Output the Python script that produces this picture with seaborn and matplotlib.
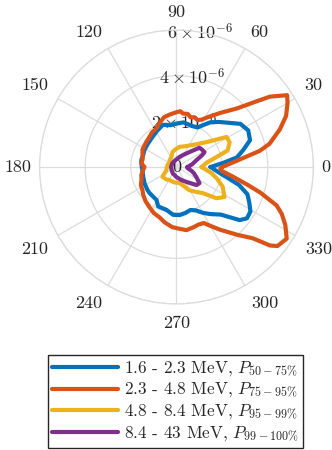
import numpy as np
import pandas as pd
import matplotlib
matplotlib.use("Agg")
import matplotlib.pyplot as plt
import seaborn as sns

sns.set_style("white")
plt.rcParams["font.family"] = "serif"
plt.rcParams["font.serif"] = ["cmr10"]
plt.rcParams["mathtext.fontset"] = "cm"
plt.rcParams["axes.unicode_minus"] = False

# angular distribution per energy band, r in units of 1e-6
bands = ["1.6 - 2.3 MeV, $P_{50-75\\%}$",
         "2.3 - 4.8 MeV, $P_{75-95\\%}$",
         "4.8 - 8.4 MeV, $P_{95-99\\%}$",
         "8.4 - 43 MeV, $P_{99-100\\%}$"]
colors = ["#0072BD", "#D95319", "#EDB120", "#7E2F8E"]

blue_deg = [0, 5, 9, 14, 20, 27, 34, 41, 47, 53, 58, 62, 70, 81, 90, 98, 108, 118,
            129, 140, 152, 160, 169, 180, 185, 197, 207, 218, 224, 239, 245, 257,
            266, 274, 281, 288, 294, 300, 306, 313, 320, 324, 329, 334, 339, 344,
            348, 353, 360]
blue_r = [1.49, 2.05, 2.68, 3.0, 3.43, 3.53, 3.38, 2.96, 2.70, 2.45, 2.15, 1.96,
          1.92, 1.98, 1.90, 1.85, 1.94, 1.80, 1.68, 1.62, 1.59, 1.55, 1.57, 1.52,
          1.50, 1.52, 1.57, 1.62, 1.64, 1.69, 1.90, 1.93, 2.10, 2.11, 2.05, 1.98,
          2.08, 2.32, 2.55, 2.85, 3.62, 3.82, 3.78, 3.55, 3.33, 2.85, 2.30, 1.85,
          1.49]

orange_deg = [0, 6, 11, 14, 20, 25, 30, 33, 37, 40, 44, 51, 58, 62, 66, 70, 74, 78,
              83, 86, 90, 97, 104, 111, 118, 125, 132, 140, 147, 153, 160, 167, 174,
              180, 186, 193, 200, 207, 214, 220, 228, 236, 244, 251, 258, 266, 272,
              279, 286, 291, 296, 301, 305, 312, 317, 320, 322, 327, 332, 336, 339,
              343, 346, 350, 355, 358, 360]
orange_r = [2.00, 2.67, 3.72, 4.20, 4.82, 5.30, 5.62, 5.78, 5.12, 4.40, 3.70, 3.05,
            2.57, 2.35, 2.25, 2.32, 2.26, 2.38, 2.36, 2.45, 2.40, 2.32, 2.25, 2.07,
            1.90, 1.86, 1.77, 1.72, 1.69, 1.67, 1.58, 1.52, 1.55, 1.40, 1.48, 1.58,
            1.63, 1.75, 1.80, 1.90, 2.02, 2.12, 2.25, 2.32, 2.48, 2.64, 2.70, 2.80,
            2.74, 2.70, 2.73, 3.05, 3.36, 4.00, 4.58, 5.35, 5.62, 5.76, 5.40, 5.05,
            4.70, 3.85, 3.20, 2.55, 2.00, 1.92, 2.00]

yellow_deg = [0, 8, 14, 18, 25, 31, 39, 46, 54, 68, 82, 95, 105, 117, 135, 150, 165,
              180, 197, 215, 230, 242, 262, 281, 299, 308, 315, 322, 328, 337, 344,
              350, 360]
yellow_r = [1.10, 1.33, 1.81, 2.36, 2.57, 2.56, 1.75, 1.42, 1.19, 0.98, 0.89, 0.76,
            0.68, 0.49, 0.42, 0.36, 0.40, 0.42, 0.46, 0.75, 0.70, 0.65, 0.68, 0.71,
            1.16, 1.38, 1.61, 2.22, 2.48, 2.20, 1.85, 1.56, 1.10]

purple_deg = [0, 10, 19, 25, 28, 35, 40, 49, 60, 73, 100, 135, 180, 211, 240, 270,
              290, 304, 318, 325, 333, 340, 345, 355, 360]
purple_r = [0.48, 0.70, 0.93, 1.25, 1.39, 1.35, 1.31, 0.87, 0.62, 0.46, 0.30, 0.25,
            0.24, 0.25, 0.32, 0.44, 0.60, 0.79, 1.18, 1.23, 0.98, 0.82, 0.70, 0.48,
            0.48]

rticks = [0, 2e-6, 4e-6, 6e-6]
rtick_labels = ["0", "$2\\times10^{-6}$", "$4\\times10^{-6}$", "$6\\times10^{-6}$"]
theta_ticks = list(range(0, 360, 30))

frames = []
for name, deg, r in zip(bands, [blue_deg, orange_deg, yellow_deg, purple_deg],
                        [blue_r, orange_r, yellow_r, purple_r]):
    frames.append(pd.DataFrame({"theta": np.deg2rad(deg), "r": np.array(r) * 1e-6,
                                "band": name}))
df = pd.concat(frames, ignore_index=True)

fig = plt.figure(figsize=(3.32, 4.5), dpi=100)
ax = fig.add_axes([0.119, 0.3244, 0.825, 0.6089], projection="polar")

sns.lineplot(data=df, x="theta", y="r", hue="band", hue_order=bands, palette=colors,
             sort=False, estimator=None, units="band", lw=3, ax=ax, zorder=3)

rmax = 6e-6
ax.set_ylim(0, rmax)
ax.set_yticks(rticks)
ax.set_yticklabels([])
ax.set_xticks(np.deg2rad(theta_ticks))
ax.set_xticklabels([])
ax.tick_params(length=0)
ax.grid(True, color="#dcdcdc", lw=0.9)
ax.spines["polar"].set_color("#dcdcdc")
ax.spines["polar"].set_linewidth(0.9)
ax.set_xlabel("")
ax.set_ylabel("")

# angle labels, edge-anchored just outside the outer ring
for t in theta_ticks:
    c, s = np.cos(np.deg2rad(t)), np.sin(np.deg2rad(t))
    ha = "left" if c > 0.1 else ("right" if c < -0.1 else "center")
    va = "bottom" if s > 0.1 else ("top" if s < -0.1 else "center")
    k = {"bottom": 1.075, "top": 1.085, "center": 1.06}[va]
    ax.text(np.deg2rad(t), rmax * k, str(t), ha=ha, va=va, fontsize=13,
            color="#262626", clip_on=False)

for rv, lab in zip(rticks, rtick_labels):
    ax.text(np.deg2rad(80), rv, lab, ha="center", va="center", fontsize=13,
            color="#262626", zorder=1, clip_on=False)

leg = ax.get_legend()
handles = leg.legend_handles
labels = [t.get_text() for t in leg.texts]
leg.remove()
fig.legend(handles, labels, loc="lower center", bbox_to_anchor=(0.5286, 0.004),
           fontsize=12.4, frameon=True, fancybox=False, edgecolor="#262626",
           framealpha=1, handlelength=3.8, handletextpad=0.35, labelspacing=0.15,
           borderpad=0.25, borderaxespad=0)
for h in handles:
    h.set_linewidth(3)

fig.savefig("out.png", dpi=100)
